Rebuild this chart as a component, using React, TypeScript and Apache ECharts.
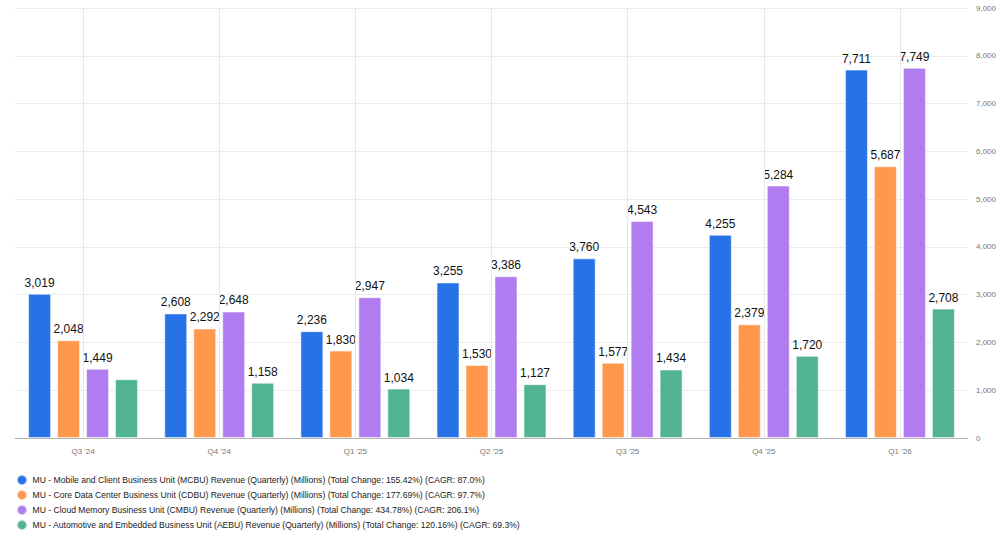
import React, { useEffect, useRef } from "react";
import * as echarts from "echarts";

const quarters = ["Q3 '24", "Q4 '24", "Q1 '25", "Q2 '25", "Q3 '25", "Q4 '25", "Q1 '26"];

const mcbu = [3019, 2608, 2236, 3255, 3760, 4255, 7711];
const cdbu = [2048, 2292, 1830, 1530, 1577, 2379, 5687];
const cmbu = [1449, 2648, 2947, 3386, 4543, 5284, 7749];
const aebu = [1230, 1158, 1034, 1127, 1434, 1720, 2708];

const seriesNames = [
  "MU - Mobile and Client Business Unit (MCBU) Revenue (Quarterly) (Millions) (Total Change: 155.42%) (CAGR: 87.0%)",
  "MU - Core Data Center Business Unit (CDBU) Revenue (Quarterly) (Millions) (Total Change: 177.69%) (CAGR: 97.7%)",
  "MU - Cloud Memory Business Unit (CMBU) Revenue (Quarterly) (Millions) (Total Change: 434.78%) (CAGR: 206.1%)",
  "MU - Automotive and Embedded Business Unit (AEBU) Revenue (Quarterly) (Millions) (Total Change: 120.16%) (CAGR: 69.3%)",
];

const colors = ["#2772e7", "#ff974c", "#b07cef", "#52b391"];

// the first AEBU quarter carries no value label
const hiddenLabels: Record<number, number[]> = { 3: [0] };

const fmt = (v: number) => v.toLocaleString("en-US");
const font = "Liberation Sans, Arial, sans-serif";

export default function App() {
  const ref = useRef<HTMLDivElement>(null);

  useEffect(() => {
    if (!ref.current) return;
    const chart = echarts.init(ref.current, undefined, { renderer: "svg" });
    const all = [mcbu, cdbu, cmbu, aebu];

    const bars = all.map((vals, si) => ({
      name: seriesNames[si],
      type: "bar" as const,
      barWidth: 23,
      barGap: "26%",
      itemStyle: { color: colors[si], borderColor: "rgba(255,255,255,0.55)", borderWidth: 1 },
      label: {
        show: true,
        position: "top" as const,
        distance: 5,
        color: "#111",
        fontSize: 12,
        fontFamily: font,
        formatter: (p: any) => fmt(p.value),
      },
      data: vals.map((v, i) =>
        (hiddenLabels[si] || []).includes(i) ? { value: v, label: { show: false } } : v
      ),
      z: 3,
    }));

    // vertical guides through each quarter's centre
    const guides = {
      name: "guides",
      type: "line" as const,
      data: [],
      silent: true,
      z: 1,
      markLine: {
        silent: true,
        symbol: ["none", "none"],
        label: { show: false },
        lineStyle: { color: "#e8e8e8", type: "solid" as const, width: 1 },
        data: quarters.map((q) => ({ xAxis: q })),
      },
    };

    chart.setOption({
      animation: false,
      backgroundColor: "#ffffff",
      color: colors,
      grid: { left: 15, right: 36, top: 8, bottom: 99, containLabel: false },
      legend: {
        orient: "vertical",
        left: 16,
        top: 474,
        height: 63,
        padding: 0,
        icon: "circle",
        itemWidth: 11,
        itemHeight: 10,
        itemGap: 3,
        textStyle: { fontSize: 8.6, color: "#222", fontFamily: font },
        data: seriesNames,
      },
      xAxis: {
        type: "category",
        data: quarters,
        axisLine: { lineStyle: { color: "#b5b5b5" } },
        axisTick: { alignWithLabel: true, length: 6, lineStyle: { color: "#777" } },
        axisLabel: { fontSize: 8, color: "#777", margin: 9, fontFamily: font },
        splitLine: { show: false },
      },
      yAxis: {
        type: "value",
        position: "right",
        min: 0,
        max: 9000,
        interval: 1000,
        axisLine: { show: false },
        axisTick: { show: false },
        axisLabel: {
          fontSize: 8,
          color: "#777",
          margin: 8,
          fontFamily: font,
          formatter: (v: number) => fmt(v),
        },
        splitLine: { lineStyle: { color: "#ececec" } },
      },
      series: [guides, ...bars],
    });

    return () => chart.dispose();
  }, []);

  return <div ref={ref} style={{ width: 1004, height: 537, position: "absolute", left: 0, top: 0 }} />;
}
